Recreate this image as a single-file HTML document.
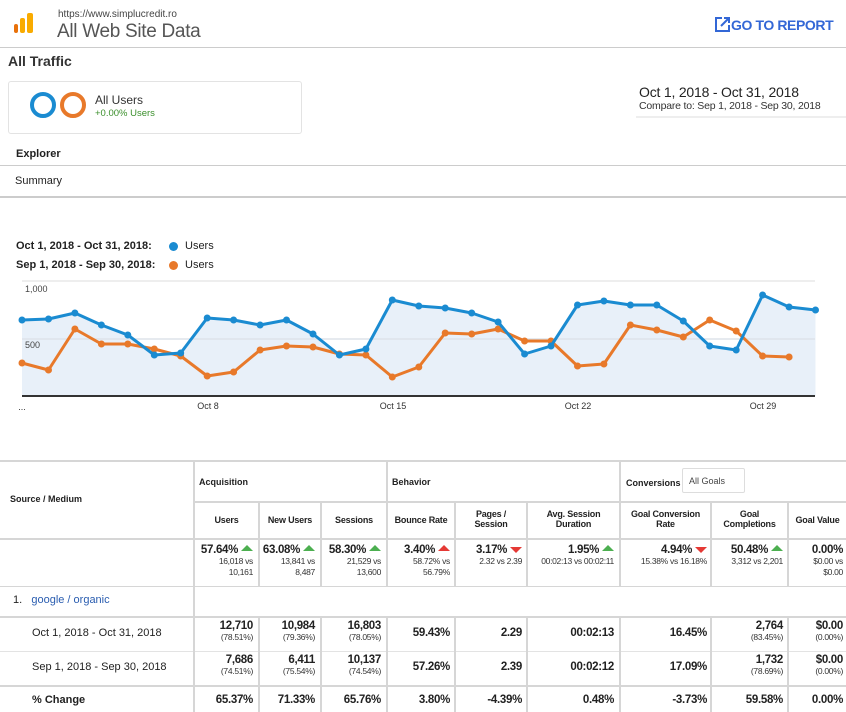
<!DOCTYPE html>
<html><head><meta charset="utf-8"><style>
body{margin:0;width:846px;height:712px;overflow:hidden;background:#fff;font-family:"Liberation Sans",sans-serif;color:#222;position:relative}
.a{position:absolute;white-space:nowrap}
.c{position:absolute;text-align:right;font-size:11.5px;letter-spacing:-0.3px;white-space:nowrap}
.h{position:absolute;font-size:9px;font-weight:bold;text-align:center;letter-spacing:-0.2px}
.s{font-size:8.5px;color:#333;font-weight:normal;letter-spacing:-0.3px}
.b{font-weight:bold}
.vl{position:absolute;width:2px;background:#d6d6d6}
.hl{position:absolute;height:2px;background:#d6d6d6;left:0;width:846px}
.up{display:inline-block;width:0;height:0;border-left:6px solid transparent;border-right:6px solid transparent;border-bottom:6px solid #4caf50;position:relative;top:-2px}
.dn{display:inline-block;width:0;height:0;border-left:6px solid transparent;border-right:6px solid transparent;border-top:6px solid #e53935;position:relative;top:0px}
.upr{border-bottom-color:#e53935}
</style></head><body>
<div class="a" style="left:14px;top:24px;width:4px;height:9px;background:#e8710a;border-radius:2px"></div>
<div class="a" style="left:20px;top:18px;width:5px;height:15px;background:#f9ab00;border-radius:2px"></div>
<div class="a" style="left:27px;top:13px;width:6px;height:20px;background:#f9ab00;border-radius:2px"></div>
<div class="a" style="left:58px;top:9px;font-size:10px;color:#444">https://www.simplucredit.ro</div>
<div class="a" style="left:57px;top:21px;font-size:19px;color:#555;letter-spacing:-0.3px">All Web Site Data</div>
<div class="a" style="left:714px;top:16px;font-size:14px;color:#3367d6;font-weight:bold;letter-spacing:-0.4px">
<svg width="17" height="17" viewBox="0 0 17 17" style="vertical-align:-3px"><path d="M8 2H2v13h13V9" fill="none" stroke="#3367d6" stroke-width="2"/><path d="M7 10L15 2M10 2h5v5" fill="none" stroke="#3367d6" stroke-width="2"/></svg>GO TO REPORT</div>
<div class="a" style="left:0;top:47px;width:846px;height:1px;background:#ccc"></div>
<div class="a" style="left:8px;top:53px;font-size:14px;font-weight:bold;color:#333">All Traffic</div>
<div class="a" style="left:8px;top:81px;width:292px;height:51px;border:1px solid #e3e3e3;border-radius:3px"></div>
<div class="a" style="left:30px;top:92px;width:18px;height:18px;border:4px solid #1a8bd1;border-radius:50%"></div>
<div class="a" style="left:60px;top:92px;width:18px;height:18px;border:4px solid #e8792a;border-radius:50%"></div>
<div class="a" style="left:95px;top:93px;font-size:12px;color:#333">All Users</div>
<div class="a" style="left:95px;top:108px;font-size:9.5px;color:#3a8f2b">+0.00% Users</div>
<div class="a" style="left:639px;top:84px;font-size:14px;color:#222;letter-spacing:-0.2px">Oct 1, 2018 - Oct 31, 2018</div>
<div class="a" style="left:639px;top:100px;font-size:10.5px;color:#333;letter-spacing:-0.2px">Compare to: Sep 1, 2018 - Sep 30, 2018</div>
<div class="a" style="left:636px;top:116px;width:210px;height:2px;background:#eee"></div>
<div class="a" style="left:16px;top:148px;font-size:11px;font-weight:bold">Explorer</div>
<div class="a" style="left:0;top:165px;width:846px;height:1px;background:#ccc"></div>
<div class="a" style="left:15px;top:175px;font-size:11px">Summary</div>
<div class="a" style="left:0;top:196px;width:846px;height:2px;background:#ccc"></div>
<div class="a b" style="left:16px;top:240px;font-size:11px">Oct 1, 2018 - Oct 31, 2018:</div>
<div class="a b" style="left:16px;top:259px;font-size:11px">Sep 1, 2018 - Sep 30, 2018:</div>
<div class="a" style="left:169px;top:242px;width:9px;height:9px;border-radius:50%;background:#1a8bd1"></div>
<div class="a" style="left:169px;top:261px;width:9px;height:9px;border-radius:50%;background:#e8792a"></div>
<div class="a" style="left:185px;top:240px;font-size:11px">Users</div>
<div class="a" style="left:185px;top:259px;font-size:11px">Users</div>
<svg class="a" style="left:0;top:270px" width="846" height="150" viewBox="0 270 846 150">
<defs>
<marker id="mb" markerWidth="8" markerHeight="8" refX="4" refY="4" markerUnits="userSpaceOnUse"><circle cx="4" cy="4" r="3.5" fill="#1a8bd1"/></marker>
<marker id="mo" markerWidth="8" markerHeight="8" refX="4" refY="4" markerUnits="userSpaceOnUse"><circle cx="4" cy="4" r="3.5" fill="#e8792a"/></marker>
</defs>
<line x1="22" y1="281" x2="815" y2="281" stroke="#eee" stroke-width="2"/>
<polygon fill="#e8f0f9" points="22,396 22,320 48.5,319 74.9,313 101.4,325 127.8,335 154.3,355 180.7,353 207.2,318 233.6,320 260.1,325 286.5,320 313,334 339.4,355 365.9,349 392.3,300 418.8,306 445.2,308 471.7,313 498.1,322 524.6,354 551,346 577.5,305 603.9,301 630.4,305 656.8,305 683.3,321 709.7,346 736.2,350 762.6,295 789.1,307 815.5,310 815.5,396"/>
<line x1="22" y1="339" x2="815" y2="339" stroke="#dde3ea" stroke-width="1.5"/>
<text x="25" y="292" font-size="9" fill="#444" font-family="Liberation Sans">1,000</text>
<text x="25" y="348" font-size="9" fill="#444" font-family="Liberation Sans">500</text>
<polyline fill="none" stroke="#e8792a" stroke-width="3" stroke-linejoin="round" marker-start="url(#mo)" marker-mid="url(#mo)" marker-end="url(#mo)" points="22,363 48.5,370 74.9,329 101.4,344 127.8,344 154.3,349 180.7,356 207.2,376 233.6,372 260.1,350 286.5,346 313,347 339.4,354 365.9,355 392.3,377 418.8,367 445.2,333 471.7,334 498.1,329 524.6,341 551,341 577.5,366 603.9,364 630.4,325 656.8,330 683.3,337 709.7,320 736.2,331 762.6,356 789.1,357"/>
<polyline fill="none" stroke="#1a8bd1" stroke-width="3" stroke-linejoin="round" marker-start="url(#mb)" marker-mid="url(#mb)" marker-end="url(#mb)" points="22,320 48.5,319 74.9,313 101.4,325 127.8,335 154.3,355 180.7,353 207.2,318 233.6,320 260.1,325 286.5,320 313,334 339.4,355 365.9,349 392.3,300 418.8,306 445.2,308 471.7,313 498.1,322 524.6,354 551,346 577.5,305 603.9,301 630.4,305 656.8,305 683.3,321 709.7,346 736.2,350 762.6,295 789.1,307 815.5,310"/>
<line x1="22" y1="396" x2="815" y2="396" stroke="#333" stroke-width="2"/>
<g font-size="9" fill="#333" font-family="Liberation Sans" text-anchor="middle">
<text x="22" y="410">...</text><text x="208" y="409">Oct 8</text><text x="393" y="409">Oct 15</text><text x="578" y="409">Oct 22</text><text x="763" y="409">Oct 29</text></g>
</svg>
<div class="hl" style="top:460px"></div>
<div class="hl" style="top:501px;left:193px;width:653px"></div>
<div class="hl" style="top:538px"></div>
<div class="hl" style="top:586px;height:1px"></div>
<div class="hl" style="top:616px"></div>
<div class="hl" style="top:651px;height:1px;background:#e3e3e3"></div>
<div class="hl" style="top:685px"></div>
<div class="vl" style="left:193px;top:460px;height:252px"></div>
<div class="vl" style="left:258px;top:501px;height:86px"></div>
<div class="vl" style="left:258px;top:617px;height:95px"></div>
<div class="vl" style="left:320px;top:501px;height:86px"></div>
<div class="vl" style="left:320px;top:617px;height:95px"></div>
<div class="vl" style="left:386px;top:460px;height:127px"></div>
<div class="vl" style="left:386px;top:617px;height:95px"></div>
<div class="vl" style="left:454px;top:501px;height:86px"></div>
<div class="vl" style="left:454px;top:617px;height:95px"></div>
<div class="vl" style="left:526px;top:501px;height:86px"></div>
<div class="vl" style="left:526px;top:617px;height:95px"></div>
<div class="vl" style="left:619px;top:460px;height:127px"></div>
<div class="vl" style="left:619px;top:617px;height:95px"></div>
<div class="vl" style="left:710px;top:501px;height:86px"></div>
<div class="vl" style="left:710px;top:617px;height:95px"></div>
<div class="vl" style="left:787px;top:501px;height:86px"></div>
<div class="vl" style="left:787px;top:617px;height:95px"></div>
<div class="a b" style="left:10px;top:494px;font-size:9px">Source / Medium</div>
<div class="a b" style="left:199px;top:477px;font-size:9px">Acquisition</div>
<div class="a b" style="left:392px;top:477px;font-size:9px">Behavior</div>
<div class="a b" style="left:626px;top:478px;font-size:9px">Conversions</div>
<div class="a" style="left:682px;top:468px;width:63px;height:25px;border:1px solid #ddd;border-radius:2px;font-size:9px;color:#444;line-height:25px;padding-left:6px;box-sizing:border-box">All Goals</div>
<div class="h" style="left:195px;width:63px;top:515px">Users</div>
<div class="h" style="left:260px;width:60px;top:515px">New Users</div>
<div class="h" style="left:322px;width:64px;top:515px">Sessions</div>
<div class="h" style="left:388px;width:66px;top:515px">Bounce Rate</div>
<div class="h" style="left:456px;width:70px;top:509px">Pages /<br>Session</div>
<div class="h" style="left:528px;width:91px;top:509px">Avg. Session<br>Duration</div>
<div class="h" style="left:621px;width:89px;top:509px">Goal Conversion<br>Rate</div>
<div class="h" style="left:712px;width:75px;top:509px">Goal<br>Completions</div>
<div class="h" style="left:789px;width:57px;top:515px">Goal Value</div>
<div class="c" style="right:593px;top:545px;line-height:11px"><span class="b">57.64%</span> <span class="up"></span><br><span class="s">16,018 vs<br>10,161</span></div>
<div class="c" style="right:531px;top:545px;line-height:11px"><span class="b">63.08%</span> <span class="up"></span><br><span class="s">13,841 vs<br>8,487</span></div>
<div class="c" style="right:465px;top:545px;line-height:11px"><span class="b">58.30%</span> <span class="up"></span><br><span class="s">21,529 vs<br>13,600</span></div>
<div class="c" style="right:396px;top:545px;line-height:11px"><span class="b">3.40%</span> <span class="up upr"></span><br><span class="s">58.72% vs<br>56.79%</span></div>
<div class="c" style="right:324px;top:545px;line-height:11px"><span class="b">3.17%</span> <span class="dn"></span><br><span class="s">2.32 vs 2.39</span></div>
<div class="c" style="right:232px;top:545px;line-height:11px"><span class="b">1.95%</span> <span class="up"></span><br><span class="s">00:02:13 vs 00:02:11</span></div>
<div class="c" style="right:139px;top:545px;line-height:11px"><span class="b">4.94%</span> <span class="dn"></span><br><span class="s">15.38% vs 16.18%</span></div>
<div class="c" style="right:63px;top:545px;line-height:11px"><span class="b">50.48%</span> <span class="up"></span><br><span class="s">3,312 vs 2,201</span></div>
<div class="c" style="right:3px;top:545px;line-height:11px"><span class="b">0.00%</span><br><span class="s">$0.00 vs<br>$0.00</span></div>
<div class="a" style="left:13px;top:594px;font-size:11px">1.&nbsp;&nbsp;&nbsp;<span style="color:#2a5db0">google / organic</span></div>
<div class="a" style="left:32px;top:627px;font-size:11px">Oct 1, 2018 - Oct 31, 2018</div>
<div class="a" style="left:32px;top:661px;font-size:11px">Sep 1, 2018 - Sep 30, 2018</div>
<div class="a b" style="left:32px;top:694px;font-size:11px">% Change</div>
<div class="c" style="right:593px;top:621px;line-height:11px"><span class="b">12,710</span><br><span class="s">(78.51%)</span></div>
<div class="c" style="right:531px;top:621px;line-height:11px"><span class="b">10,984</span><br><span class="s">(79.36%)</span></div>
<div class="c" style="right:465px;top:621px;line-height:11px"><span class="b">16,803</span><br><span class="s">(78.05%)</span></div>
<div class="c b" style="right:396px;top:627px">59.43%</div>
<div class="c b" style="right:324px;top:627px">2.29</div>
<div class="c b" style="right:232px;top:627px">00:02:13</div>
<div class="c b" style="right:139px;top:627px">16.45%</div>
<div class="c" style="right:63px;top:621px;line-height:11px"><span class="b">2,764</span><br><span class="s">(83.45%)</span></div>
<div class="c" style="right:3px;top:621px;line-height:11px"><span class="b">$0.00</span><br><span class="s">(0.00%)</span></div>
<div class="c" style="right:593px;top:655px;line-height:11px"><span class="b">7,686</span><br><span class="s">(74.51%)</span></div>
<div class="c" style="right:531px;top:655px;line-height:11px"><span class="b">6,411</span><br><span class="s">(75.54%)</span></div>
<div class="c" style="right:465px;top:655px;line-height:11px"><span class="b">10,137</span><br><span class="s">(74.54%)</span></div>
<div class="c b" style="right:396px;top:661px">57.26%</div>
<div class="c b" style="right:324px;top:661px">2.39</div>
<div class="c b" style="right:232px;top:661px">00:02:12</div>
<div class="c b" style="right:139px;top:661px">17.09%</div>
<div class="c" style="right:63px;top:655px;line-height:11px"><span class="b">1,732</span><br><span class="s">(78.69%)</span></div>
<div class="c" style="right:3px;top:655px;line-height:11px"><span class="b">$0.00</span><br><span class="s">(0.00%)</span></div>
<div class="c b" style="right:593px;top:694px">65.37%</div>
<div class="c b" style="right:531px;top:694px">71.33%</div>
<div class="c b" style="right:465px;top:694px">65.76%</div>
<div class="c b" style="right:396px;top:694px">3.80%</div>
<div class="c b" style="right:324px;top:694px">-4.39%</div>
<div class="c b" style="right:232px;top:694px">0.48%</div>
<div class="c b" style="right:139px;top:694px">-3.73%</div>
<div class="c b" style="right:63px;top:694px">59.58%</div>
<div class="c b" style="right:3px;top:694px">0.00%</div>
</body></html>
